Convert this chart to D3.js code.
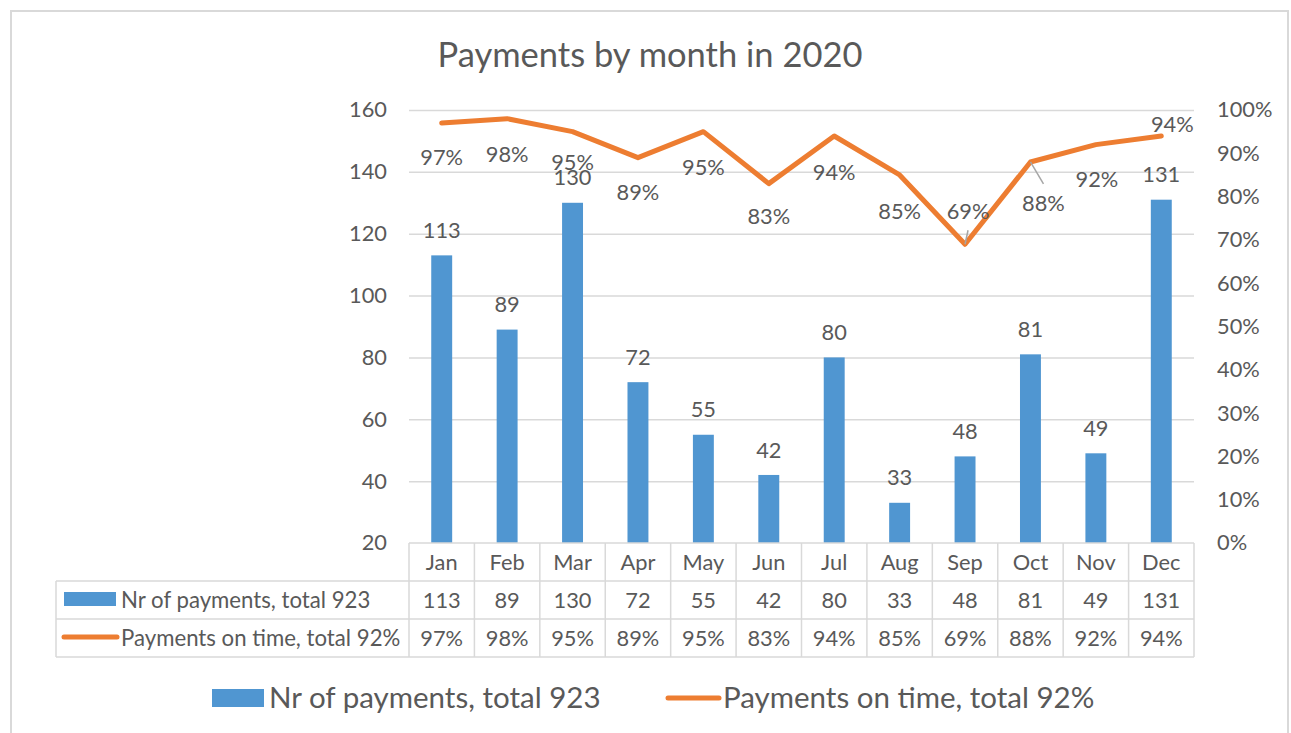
<!DOCTYPE html>
<html>
<head>
<meta charset="utf-8">
<script src="https://cdn.jsdelivr.net/npm/d3@7"></script>
<style>
  body { margin: 0; background: #fff; }
  svg text { font-family: Lato, "Noto Sans", sans-serif; fill: #595959; }
</style>
</head>
<body>
<svg width="1291" height="733"></svg>
<script>
var months = ['Jan', 'Feb', 'Mar', 'Apr', 'May', 'Jun', 'Jul', 'Aug', 'Sep', 'Oct', 'Nov', 'Dec'];
var payments = [113, 89, 130, 72, 55, 42, 80, 33, 48, 81, 49, 131];
var onTime = [0.97, 0.98, 0.95, 0.89, 0.95, 0.83, 0.94, 0.85, 0.69, 0.88, 0.92, 0.94];
var seriesNames = ['Nr of payments, total 923', 'Payments on time, total 92%'];
var leftTicks = [20, 40, 60, 80, 100, 120, 140, 160];
var rightTicks = [0, 0.1, 0.2, 0.3, 0.4, 0.5, 0.6, 0.7, 0.8, 0.9, 1];

// label nudges (dx, dy in px) for the % labels, as they were placed by hand
var pctLabelNudge = [[0, 34], [0, 36], [0, 31], [0, 35], [0, 36], [0, 33],
                     [0, 36], [0, 36], [3, -33], [13, 41], [1, 35], [11, -12]];
var hasLeader = [false, false, false, false, false, false, false, false, true, true, false, false];

var blue = '#5096d1';
var orange = '#ed7d31';
var grid = '#d9d9d9';
var fs = '21.8px';

var svg = d3.select('svg');

var plot = { left: 409, right: 1194, top: 110, bottom: 543 };
var rowH = 38;

var x = d3.scaleBand().domain(months).range([plot.left, plot.right]);
var y = d3.scaleLinear().domain([20, 160]).range([plot.bottom, plot.top]);
var yR = d3.scaleLinear().domain([0, 1]).range([plot.bottom, plot.top]);
var cx = d => x(d) + x.bandwidth() / 2;
var barW = x.bandwidth() * 0.32;
var pct = d3.format('.0%');

// chart border
svg.append('rect')
    .attr('x', 11).attr('y', 11)
    .attr('width', 1277).attr('height', 740)
    .attr('fill', 'none')
    .attr('stroke', grid)
    .attr('stroke-width', 2);

// title
svg.append('text')
    .attr('x', 650).attr('y', 67)
    .attr('text-anchor', 'middle')
    .style('font-size', '34.5px')
    .text('Payments by month in 2020');

// gridlines
svg.append('g')
    .attr('transform', `translate(${plot.left},0)`)
    .call(d3.axisRight(y).tickValues(leftTicks.slice(1)).tickSize(plot.right - plot.left).tickFormat(''))
    .call(g => g.select('.domain').remove())
    .call(g => g.selectAll('line').attr('stroke', grid).attr('stroke-width', 1.5));

// left axis labels
svg.append('g')
    .attr('transform', `translate(${plot.left - 22},0)`)
    .call(d3.axisLeft(y).tickValues(leftTicks).tickSize(0).tickPadding(0))
    .call(g => g.select('.domain').remove())
    .call(g => g.selectAll('text').style('font-size', fs).attr('fill', '#595959'));

// right axis labels
svg.append('g')
    .attr('transform', `translate(${plot.right + 23},0)`)
    .call(d3.axisRight(yR).tickValues(rightTicks).tickFormat(pct).tickSize(0).tickPadding(0))
    .call(g => g.select('.domain').remove())
    .call(g => g.selectAll('text').style('font-size', fs).attr('fill', '#595959'));

// bars
svg.append('g')
    .selectAll('rect')
    .data(payments)
    .join('rect')
    .attr('x', (d, i) => cx(months[i]) - barW / 2)
    .attr('width', barW)
    .attr('y', d => y(d))
    .attr('height', d => y(20) - y(d))
    .attr('fill', blue);

svg.append('g')
    .selectAll('text')
    .data(payments)
    .join('text')
    .attr('x', (d, i) => cx(months[i]))
    .attr('y', d => y(d) - 25)
    .attr('dy', '0.35em')
    .attr('text-anchor', 'middle')
    .style('font-size', fs)
    .text(d => d);

// line
var line = d3.line()
    .x((d, i) => cx(months[i]))
    .y(d => yR(d));

svg.append('path')
    .datum(onTime)
    .attr('d', line)
    .attr('fill', 'none')
    .attr('stroke', orange)
    .attr('stroke-width', 5)
    .attr('stroke-linecap', 'round')
    .attr('stroke-linejoin', 'round');

// leader lines
svg.append('g')
    .selectAll('line')
    .data(onTime.map((v, i) => i).filter(i => hasLeader[i]))
    .join('line')
    .attr('x1', i => cx(months[i]))
    .attr('y1', i => yR(onTime[i]))
    .attr('x2', i => cx(months[i]) + pctLabelNudge[i][0])
    .attr('y2', i => yR(onTime[i]) + pctLabelNudge[i][1] - Math.sign(pctLabelNudge[i][1]) * 19)
    .attr('stroke', '#a6a6a6')
    .attr('stroke-width', 1.5);

svg.append('g')
    .selectAll('text')
    .data(onTime)
    .join('text')
    .attr('x', (d, i) => cx(months[i]) + pctLabelNudge[i][0])
    .attr('y', (d, i) => yR(d) + pctLabelNudge[i][1])
    .attr('dy', '0.35em')
    .attr('text-anchor', 'middle')
    .style('font-size', fs)
    .text(d => pct(d));

// data table
var table = svg.append('g');
var tableLeft = 56;
var rowTop = [plot.bottom, plot.bottom + rowH, plot.bottom + 2 * rowH, plot.bottom + 3 * rowH];

table.append('line')
    .attr('x1', plot.left).attr('x2', plot.right)
    .attr('y1', rowTop[0]).attr('y2', rowTop[0]);
table.selectAll('line.h')
    .data(rowTop.slice(1))
    .join('line')
    .attr('class', 'h')
    .attr('x1', tableLeft).attr('x2', plot.right)
    .attr('y1', d => d).attr('y2', d => d);
table.selectAll('line.v')
    .data(months.map(m => x(m)).concat([plot.right]))
    .join('line')
    .attr('class', 'v')
    .attr('x1', d => d).attr('x2', d => d)
    .attr('y1', rowTop[0]).attr('y2', rowTop[3]);
table.append('line')
    .attr('x1', tableLeft).attr('x2', tableLeft)
    .attr('y1', rowTop[1]).attr('y2', rowTop[3]);
table.selectAll('line').attr('stroke', grid).attr('stroke-width', 1.5);

var rows = [months, payments, onTime.map(pct)];
rows.forEach((row, r) => {
    table.append('g')
        .selectAll('text')
        .data(row)
        .join('text')
        .attr('x', (d, i) => cx(months[i]))
        .attr('y', rowTop[r] + rowH / 2)
        .attr('dy', '0.35em')
        .attr('text-anchor', 'middle')
        .style('font-size', fs)
        .text(d => d);
});

// table legend keys
table.append('rect')
    .attr('x', 64).attr('y', rowTop[1] + 11)
    .attr('width', 52).attr('height', 14)
    .attr('fill', blue);
table.append('line')
    .attr('x1', 64).attr('x2', 117)
    .attr('y1', rowTop[2] + 18).attr('y2', rowTop[2] + 18)
    .attr('stroke', orange).attr('stroke-width', 5).attr('stroke-linecap', 'round');
seriesNames.forEach((name, r) => {
    table.append('text')
        .attr('x', 121)
        .attr('y', rowTop[r + 1] + rowH / 2)
        .attr('dy', '0.35em')
        .style('font-size', '22.2px')
        .text(name);
});

// bottom legend
var legend = svg.append('g');
legend.append('rect')
    .attr('x', 212).attr('y', 689)
    .attr('width', 52).attr('height', 18)
    .attr('fill', blue);
legend.append('text')
    .attr('x', 269).attr('y', 698)
    .attr('dy', '0.35em')
    .style('font-size', '29.5px')
    .text(seriesNames[0]);
legend.append('line')
    .attr('x1', 668).attr('x2', 719)
    .attr('y1', 698).attr('y2', 698)
    .attr('stroke', orange).attr('stroke-width', 5).attr('stroke-linecap', 'round');
legend.append('text')
    .attr('x', 723).attr('y', 698)
    .attr('dy', '0.35em')
    .style('font-size', '29.5px')
    .text(seriesNames[1]);
</script>
</body>
</html>
